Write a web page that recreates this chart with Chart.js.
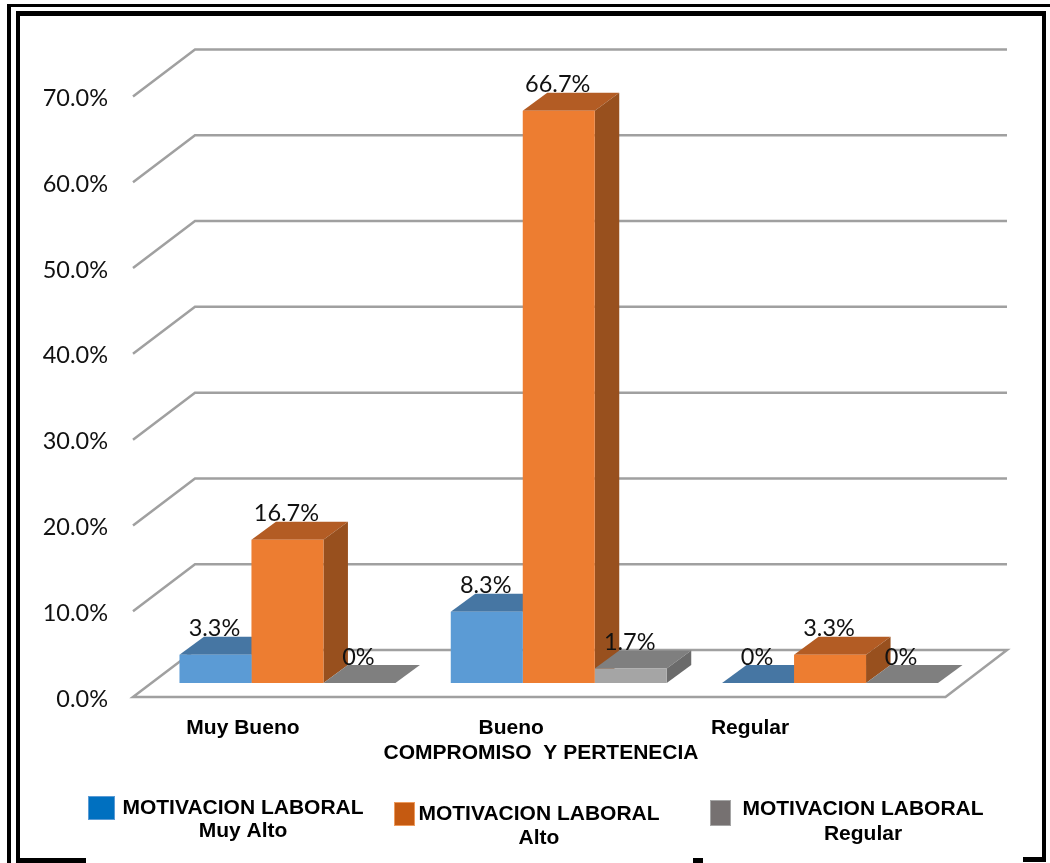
<!DOCTYPE html>
<html>
<head>
<meta charset="utf-8">
<style>html,body{margin:0;padding:0;background:#fff}canvas{display:block}</style>
<script src="https://cdn.jsdelivr.net/npm/chart.js@4"></script>
</head>
<body>
<canvas id="c" width="1050" height="863"></canvas>
<script>
const categories = ["Muy Bueno", "Bueno", "Regular"];
const seriesMuyAlto = [3.3, 8.3, 0];
const seriesAlto = [16.7, 66.7, 3.3];
const seriesRegular = [0, 1.7, 0];
const legendLine1 = "MOTIVACION LABORAL";
const legendLine2 = ["Muy Alto", "Alto", "Regular"];
const axisTitle = "COMPROMISO  Y PERTENECIA";

const faces = [
  {front:"#5B9BD5", top:"#4676A3", side:"#3F6B94", key:"#0070C0", keyEdge:"#5B9BD5"},
  {front:"#ED7D31", top:"#B35C24", side:"#98501E", key:"#C55A11", keyEdge:"#ED9A5C"},
  {front:"#A5A5A5", top:"#7F7F7F", side:"#6B6B6B", key:"#767171", keyEdge:"#A5A5A5"}
];
const DX = 24.5, DY = 18;          // bar depth
const FLOOR_DX = 62, FLOOR_DY = 47, FLOOR_FRONT = 14; // wall / floor geometry
const LABEL_FONT = '23.5px "Lato"';
const BOLD_FONT = 'bold 21px "Liberation Sans"';

function poly(ctx, pts, fill){
  ctx.beginPath();
  pts.forEach((p,i)=> i?ctx.lineTo(p[0],p[1]):ctx.moveTo(p[0],p[1]));
  ctx.closePath(); ctx.fillStyle = fill; ctx.fill();
}

const depthPlugin = {
  id:"depth",
  beforeDraw(chart){
    const ctx = chart.ctx;
    ctx.save();
    ctx.fillStyle = "#fff"; ctx.fillRect(0,0,1050,863);
    ctx.fillStyle = "#000";
    // outer thin frame
    ctx.fillRect(7,4,1043,3);
    ctx.fillRect(7,4,4,859);
    // inner thick frame
    ctx.fillRect(16,11,1030,5);
    ctx.fillRect(16,11,4,852);
    ctx.fillRect(1042,11,4,851);
    ctx.fillRect(16,858,70,5);
    ctx.fillRect(1023,857,23,5);
    ctx.fillRect(693,858,10,5);
    ctx.restore();
  },
  beforeDatasetsDraw(chart){
    const ctx = chart.ctx, ys = chart.scales.y;
    ctx.save();
    // walls and floor lines, from the value scale
    ctx.strokeStyle = "#A0A0A0"; ctx.lineWidth = 2.5; ctx.lineJoin = "miter";
    const frontL = 133, backL = frontL + FLOOR_DX, backR = 1007, frontR = 945.5;
    ys.ticks.forEach(t=>{
      const y = ys.getPixelForValue(t.value) + FLOOR_FRONT;
      ctx.beginPath();
      ctx.moveTo(frontL, y);
      ctx.lineTo(backL, y - FLOOR_DY);
      ctx.lineTo(backR, y - FLOOR_DY);
      if (t.value === 0){
        ctx.lineTo(frontR, y);
        ctx.closePath();
      }
      ctx.stroke();
    });
    // top and side faces, painted left to right
    categories.forEach((_,i)=>{
      chart.data.datasets.forEach((ds,d)=>{
        const b = chart.getDatasetMeta(d).data[i];
        const half = b.width/2, l = b.x-half, r = b.x+half, t = b.y, base = b.base;
        const f = faces[d];
        poly(ctx,[[l,t],[r,t],[r+DX,t-DY],[l+DX,t-DY]],f.top);
        if (base-t>0) poly(ctx,[[r,t],[r+DX,t-DY],[r+DX,base-DY],[r,base]],f.side);
      });
    });
    ctx.restore();
  },
  afterDatasetsDraw(chart){
    const ctx = chart.ctx, xs = chart.scales.x;
    ctx.save();
    // data labels
    ctx.font = LABEL_FONT; ctx.fillStyle = "#111"; ctx.textAlign = "center"; ctx.textBaseline = "middle";
    chart.data.datasets.forEach((ds,d)=>{
      const meta = chart.getDatasetMeta(d);
      ds.data.forEach((v,i)=>{
        const b = meta.data[i];
        const txt = v === 0 ? "0%" : v.toFixed(1)+"%";
        ctx.fillText(txt, b.x - 1, b.y - DY - 8);
      });
    });
    // category labels
    ctx.font = BOLD_FONT; ctx.fillStyle = "#000";
    const shift = [-44.5,-47.5,-80];
    const labelY = xs.top + 45;
    categories.forEach((c,i)=> ctx.fillText(c, xs.getPixelForTick(i)+shift[i], labelY));
    ctx.fillText(axisTitle, 541, labelY+25);
    // legend
    const keys = [[88,796,27,24,243,808,831],[394,802,21,24,539,814,838],[710,800,21,26,863,809,834]];
    keys.forEach((k,i)=>{
      ctx.fillStyle = faces[i].keyEdge; ctx.fillRect(k[0],k[1],k[2],k[3]);
      ctx.fillStyle = faces[i].key; ctx.fillRect(k[0]+1,k[1]+1,k[2]-2,k[3]-2);
      ctx.fillStyle = "#000";
      ctx.fillText(legendLine1,k[4],k[5]);
      ctx.fillText(legendLine2[i],k[4],k[6]);
    });
    ctx.restore();
  }
};

new Chart(document.getElementById("c"),{
  type:"bar",
  data:{
    labels:categories,
    datasets:[
      {label:legendLine1+" "+legendLine2[0],data:seriesMuyAlto,backgroundColor:faces[0].front},
      {label:legendLine1+" "+legendLine2[1],data:seriesAlto,backgroundColor:faces[1].front},
      {label:legendLine1+" "+legendLine2[2],data:seriesRegular,backgroundColor:faces[2].front}
    ]
  },
  options:{
    responsive:false,
    animation:false,
    layout:{padding:{top:82.5,right:84.3,bottom:180,left:0}},
    datasets:{bar:{categoryPercentage:0.796,barPercentage:1,borderWidth:0}},
    plugins:{legend:{display:false},title:{display:false},tooltip:{enabled:false}},
    scales:{
      x:{
        grid:{display:false,drawTicks:false},border:{display:false},
        ticks:{display:false}
      },
      y:{
        min:0,max:70,
        afterFit(s){s.width=151.8;s.paddingTop=0;s.paddingBottom=0;},
        grid:{display:false,drawTicks:false},border:{display:false},
        ticks:{
          stepSize:10,padding:43.8,labelOffset:16,
          color:"#111",font:{family:"Lato",size:23.5},
          callback:v=>v.toFixed(1)+"%"
        }
      }
    }
  },
  plugins:[depthPlugin]
});
</script>
</body>
</html>
